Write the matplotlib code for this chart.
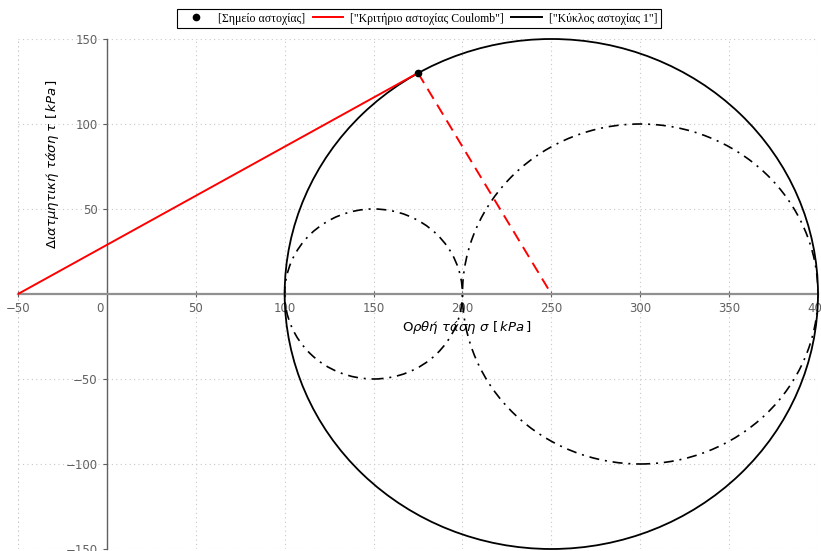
import matplotlib
matplotlib.use("Agg")
from matplotlib import pyplot as plt
from matplotlib.patches import Circle
from matplotlib.lines import Line2D

# Mohr circles (centre, radius)
stress_circles_centre = [150, 300]
stress_circles_radius = [50, 100]
failure_circle_centre = 250
failure_circle_radius = 150

# failure point and Coulomb line
point_sigma = [175]
point_tau = [130]
coulomb_sigma = [-50, 175]
coulomb_tau = [0, 130]
normal_sigma = [175, 250]
normal_tau = [130, 0]

xticks = [-50, 50, 100, 150, 200, 250, 300, 350, 400]
yticks = [-150, -100, -50, 50, 100, 150]

fig = plt.figure(figsize=(8.21, 5.51), dpi=100)
ax = fig.add_axes([18 / 821, 2 / 551, 800 / 821, 510 / 551])
ax.set_xlim(-50, 400)
ax.set_ylim(-150, 150)

# grid
for x in [-50, 0] + xticks:
    ax.axvline(x, color="#c8c8c8", lw=0.8, ls=(0, (1, 3)), zorder=0)
for y in [0] + yticks:
    ax.axhline(y, color="#c8c8c8", lw=0.8, ls=(0, (1, 3)), zorder=0)

# axes through origin
for s in ["top", "right"]:
    ax.spines[s].set_visible(False)
ax.spines["left"].set_position(("data", 0))
ax.spines["bottom"].set_position(("data", 0))
ax.spines["left"].set_color("#606060")
ax.spines["bottom"].set_color("#909090")
ax.spines["bottom"].set_linewidth(1.6)
ax.spines["left"].set_linewidth(1.0)
ax.set_xticks(xticks)
ax.set_yticks(yticks)
ax.tick_params(axis="both", colors="#606060", labelcolor="#606060", labelsize=8.5,
               length=3, width=0.8)
ax.tick_params(axis="x", direction="inout", length=4, pad=4)
ax.annotate("0", (0, 0), xytext=(-5, -6), textcoords="offset points",
            ha="center", va="top", fontsize=8.5, color="#606060")

for c, r in zip(stress_circles_centre, stress_circles_radius):
    ax.add_patch(Circle((c, 0), r, fill=False, ec="black", lw=1.2,
                        ls=(0, (6, 3.5, 1.2, 3.5)), zorder=2))
ax.add_patch(Circle((failure_circle_centre, 0), failure_circle_radius, fill=False,
                    ec="black", lw=1.3, zorder=3, clip_on=False))

ax.plot(coulomb_sigma, coulomb_tau, color="red", lw=1.4, zorder=4)
ax.plot(normal_sigma, normal_tau, color="red", lw=1.4, ls=(0, (6, 3.5)), zorder=4)
ax.plot(point_sigma, point_tau, "o", color="black", ms=4.5, zorder=5)

ax.text(467, 551 - 328, r"$\mathit{Ορθή\ τάση\ σ}\ [\,\mathbf{\mathit{kPa}}\,]$",
        transform=None, ha="center", va="center", fontsize=9.5)
ax.text(53, 551 - 164, r"$\mathit{Διατμητική\ τάση\ τ}\ [\,\mathbf{\mathit{kPa}}\,]$",
        transform=None, ha="center", va="center", fontsize=9.5, rotation=90)

handles = [
    Line2D([], [], marker="o", ls="none", color="black", ms=4.5),
    Line2D([], [], color="red", lw=1.4),
    Line2D([], [], color="black", lw=1.4),
]
labels = ["[Σημείο αστοχίας]", '["Κριτήριο αστοχίας Coulomb"]', '["Κύκλος αστοχίας 1"]']
leg = fig.legend(handles, labels, loc="upper center", bbox_to_anchor=(419 / 821, 1 - 9 / 551),
                 ncol=3, frameon=True, fancybox=False, edgecolor="black", framealpha=1,
                 prop={"family": "Liberation Serif", "size": 8.5}, handlelength=2.6,
                 handletextpad=0.6, columnspacing=0.6, borderpad=0.3, borderaxespad=0)
leg.get_frame().set_linewidth(0.8)

fig.savefig("out.png", dpi=100)
